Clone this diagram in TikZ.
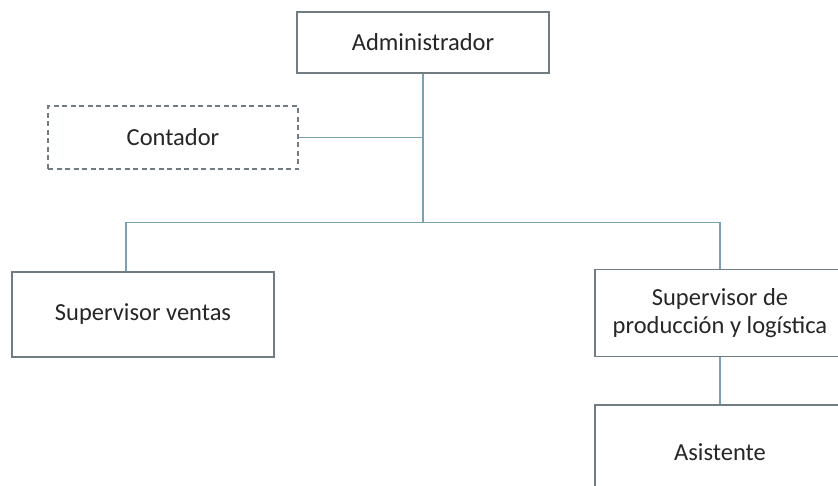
\documentclass[tikz,border=0pt]{standalone}
\usepackage{fontspec}
\setmainfont{Carlito}
\definecolor{linkblue}{RGB}{122,160,180}
\definecolor{boxgray}{RGB}{112,124,130}
\tikzset{
  post/.style={draw=boxgray,line width=1.2pt,fill=white,inner sep=0pt,
    align=center,font=\fontsize{24.5}{28.5}\selectfont,text=black!85},
  advisor/.style={post,dashed,dash pattern=on 5pt off 3.5pt},
  link/.style={draw=linkblue,line width=1.3pt}
}
\begin{document}
\begin{tikzpicture}[x=1pt,y=-1pt]
      \clip (0,0) rectangle (838,485);
      \fill[white] (0,0) rectangle (838,485);
      \draw
        (423,42.5) node[post,minimum width=252,minimum height=61] (admin){Administrador}
        (173,137.5) node[advisor,minimum width=250,minimum height=63] (cont){Contador}
        (143,314.5) node[post,minimum width=262,minimum height=85] (ventas){Supervisor ventas}
        (720,313) node[post,minimum width=250,minimum height=87] (prod){Supervisor de\\producción y logística}
        (720,452) node[post,minimum width=250,minimum height=94] (asist){Asistente};
      \coordinate (bus) at (423,222.5);
      \begin{scope}[link]
        \draw (admin) to (bus);
        \draw (cont.east) to (cont.east -| bus);
        \draw ([xshift=-17pt]ventas.north) |- (bus) -| (prod.north);
        \draw (prod) to (asist);
      \end{scope}
    \end{tikzpicture}
\end{document}
